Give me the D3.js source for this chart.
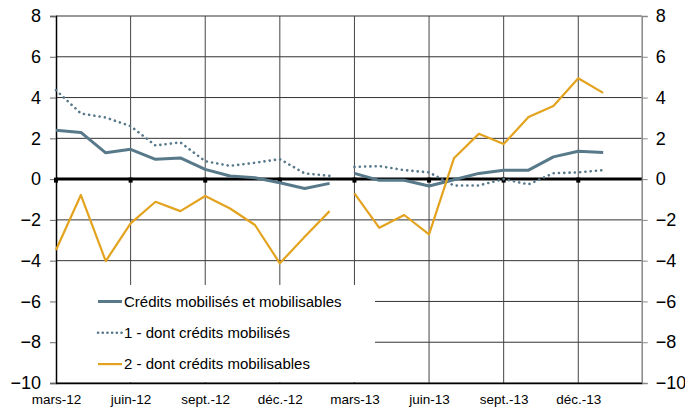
<!DOCTYPE html>
<html>
<head>
<meta charset="utf-8">
<script src="https://cdn.jsdelivr.net/npm/d3@7"></script>
<style>
  body { margin: 0; background: #fff; }
  svg text { font-family: "Liberation Sans", Arial, sans-serif; fill: #000; }
</style>
</head>
<body>
<div id="vis"></div>
<script>
var width  = 685;
var height = 407;

// months from mars-12 (index 0) to janv.-14 (index 22)
var months = d3.range(23);
var breakAfter = 11; // series are broken between févr.-13 and mars-13

var tickIdx    = [0, 3, 6, 9, 12, 15, 18, 21];
var tickLabels = ["mars-12", "juin-12", "sept.-12", "déc.-12", "mars-13", "juin-13", "sept.-13", "déc.-13"];
var yTicks     = [8, 6, 4, 2, 0, -2, -4, -6, -8, -10];

var totalVals = [2.40, 2.29, 1.29, 1.46, 0.97, 1.04, 0.48, 0.15, 0.07, -0.18, -0.46, -0.21,
                 0.28, -0.06, -0.06, -0.34, -0.03, 0.28, 0.44, 0.44, 1.09, 1.37, 1.31];
var mobVals   = [4.36, 3.22, 3.02, 2.60, 1.65, 1.80, 0.88, 0.65, 0.80, 0.98, 0.28, 0.16,
                 0.60, 0.64, 0.44, 0.33, -0.32, -0.31, 0.00, -0.26, 0.29, 0.33, 0.44];
var mbsVals   = [-3.48, -0.78, -4.02, -2.17, -1.11, -1.57, -0.83, -1.44, -2.25, -4.13, -2.83, -1.57,
                 -0.70, -2.39, -1.76, -2.71, 1.02, 2.22, 1.72, 3.05, 3.59, 4.95, 4.23];

var seriesNames = ["Crédits mobilisés et mobilisables", "1 - dont crédits mobilisés", "2 - dont crédits mobilisables"];

var blue   = "#58798a";
var orange = "#e3a31f";

var series = [
  { name: seriesNames[0], values: totalVals, color: blue,   width: 3,   dash: null },
  { name: seriesNames[1], values: mobVals,   color: blue,   width: 2.6, dash: "0.1,5.2" },
  { name: seriesNames[2], values: mbsVals,   color: orange, width: 2.2, dash: null }
];

var x = d3.scaleLinear().domain([0, 23.55]).range([56, 641.7]);
var y = d3.scaleLinear().domain([-10, 8]).range([383, 16]);

var svg = d3.select("#vis").append("svg")
  .attr("width", width)
  .attr("height", height);

// horizontal grid
svg.append("g").selectAll("line")
  .data(yTicks)
  .enter().append("line")
  .attr("x1", x(0)).attr("x2", x.range()[1])
  .attr("y1", function(d) { return y(d); })
  .attr("y2", function(d) { return y(d); })
  .attr("stroke", "#333")
  .attr("stroke-width", 1);

// vertical grid
svg.append("g").selectAll("line")
  .data(tickIdx.slice(1))
  .enter().append("line")
  .attr("x1", function(d) { return x(d); })
  .attr("x2", function(d) { return x(d); })
  .attr("y1", y(8)).attr("y2", y(-10))
  .attr("stroke", "#444")
  .attr("stroke-width", 1);

// legend background hides the grid
svg.append("rect")
  .attr("x", x(0) + 1).attr("y", 285)
  .attr("width", 318).attr("height", y(-10) - 285 - 1)
  .attr("fill", "#fff");

// left axis
svg.append("g")
  .attr("transform", "translate(" + x(0) + ",0)")
  .call(d3.axisLeft(y).tickValues(yTicks).tickSize(6).tickPadding(9))
  .call(function(g) {
    g.select(".domain").attr("stroke", "#000").attr("stroke-width", 1.5);
    g.selectAll(".tick line").attr("stroke", "#666");
    g.selectAll("text").style("font-size", "18px");
  });

// right axis
svg.append("g")
  .attr("transform", "translate(" + x.range()[1] + ",0)")
  .call(d3.axisRight(y).tickValues(yTicks).tickSize(6).tickPadding(8))
  .call(function(g) {
    g.select(".domain").attr("stroke", "#888").attr("stroke-width", 1.5);
    g.selectAll(".tick line").attr("stroke", "#888");
    g.selectAll("text").style("font-size", "18px");
  });

// bottom axis labels
svg.append("g")
  .attr("transform", "translate(0," + y(-10) + ")")
  .call(d3.axisBottom(x).tickValues(tickIdx).tickSize(0).tickPadding(11)
    .tickFormat(function(d, i) { return tickLabels[i]; }))
  .call(function(g) {
    g.select(".domain").attr("stroke", "#000").attr("stroke-width", 1.5);
    g.selectAll("text").style("font-size", "13.5px");
  });

// zero line
svg.append("line")
  .attr("x1", x(0)).attr("x2", x.range()[1])
  .attr("y1", y(0)).attr("y2", y(0))
  .attr("stroke", "#000")
  .attr("stroke-width", 3);

svg.append("g").selectAll("rect")
  .data(tickIdx)
  .enter().append("rect")
  .attr("x", function(d) { return x(d) - 2; })
  .attr("y", y(0) - 1.5)
  .attr("width", 4).attr("height", 5)
  .attr("fill", "#000");

// series lines, two segments each
var line = d3.line()
  .x(function(d) { return x(d.i); })
  .y(function(d) { return y(d.v); });

series.forEach(function(s) {
  var pts = months.map(function(i) { return { i: i, v: s.values[i] }; });
  var segs = [pts.slice(0, breakAfter + 1), pts.slice(breakAfter + 1)];
  svg.append("g").selectAll("path")
    .data(segs)
    .enter().append("path")
    .attr("d", line)
    .attr("fill", "none")
    .attr("stroke", s.color)
    .attr("stroke-width", s.width)
    .attr("stroke-linecap", s.dash ? "round" : "butt")
    .attr("stroke-linejoin", "round")
    .attr("stroke-dasharray", s.dash);
});

// legend
var legend = svg.append("g").selectAll("g")
  .data(series)
  .enter().append("g")
  .attr("transform", function(d, i) { return "translate(98," + (301.5 + i * 31.3) + ")"; });

legend.append("line")
  .attr("x1", 0).attr("x2", 24)
  .attr("stroke", function(d) { return d.color; })
  .attr("stroke-width", function(d) { return d.width; })
  .attr("stroke-linecap", function(d) { return d.dash ? "round" : "butt"; })
  .attr("stroke-dasharray", function(d) { return d.dash ? "0.1,4.6" : null; });

legend.append("text")
  .attr("x", 26)
  .attr("dy", "0.35em")
  .style("font-size", "15px")
  .text(function(d) { return d.name; });
</script>
</body>
</html>
